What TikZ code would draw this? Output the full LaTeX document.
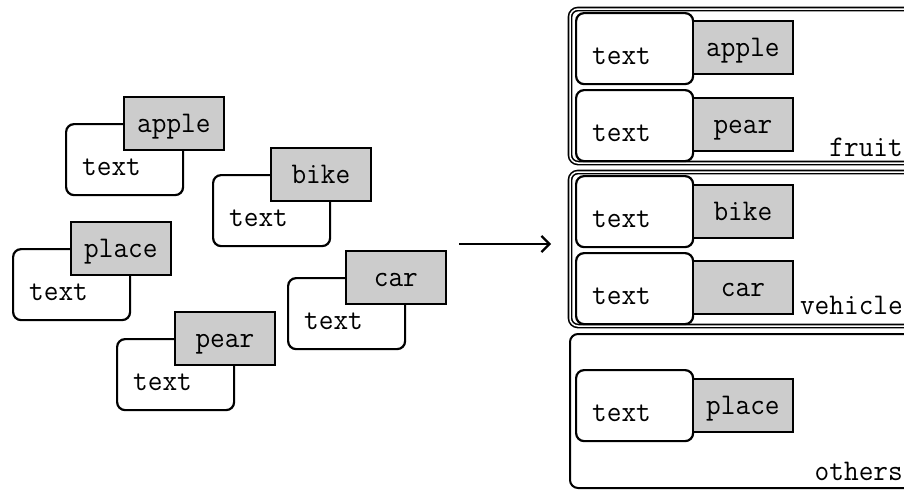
\documentclass[tikz,border=0pt]{standalone}
\usepackage{fontspec}
\setmonofont[FakeStretch=0.95]{Latin Modern Mono}
\usetikzlibrary{arrows.meta}
\definecolor{tagGray}{HTML}{CCCCCC}
\tikzset{
  x=1pt, y=-1pt,
  every node/.style={font=\ttfamily\fontsize{30}{30}\selectfont, inner sep=0pt},
  card/.style={draw, line width=2.2pt, rounded corners=8pt, fill=white,
               minimum width=117pt, minimum height=71pt, anchor=north west},
  tag/.style={draw, line width=1.8pt, fill=tagGray, minimum width=100pt,
              minimum height=53pt, anchor=north west,
              text height=22pt, text depth=4pt},
  word/.style={anchor=base west},
  group/.style={draw, line width=1.6pt, rounded corners=8pt,
                double, double distance=1.5pt},
  plaingroup/.style={draw, line width=2pt, rounded corners=8pt},
  caption/.style={anchor=base east}
}
\begin{document}
\begin{tikzpicture}
\useasboundingbox (0,0) rectangle (904,491);
\clip (0,0) rectangle (904,491);

% loose cards on the left
\node[card] (c1) at (65,123) {};
\node[word] (w1) at (82,175) {text};
\node[tag]  (t1) at (123,96) {apple};

\node[card] (c2) at (212,174) {};
\node[word] (w2) at (229,226) {text};
\node[tag]  (t2) at (270,147) {bike};

\node[card] (c3) at (12,248) {};
\node[word] (w3) at (29,300) {text};
\node[tag]  (t3) at (70,221) {place};

\node[card] (c4) at (287,277) {};
\node[word] (w4) at (304,329) {text};
\node[tag]  (t4) at (345,250) {car};

\node[card] (c5) at (116,338) {};
\node[word] (w5) at (133,390) {text};
\node[tag]  (t5) at (174,311) {pear};

% arrow
\coordinate (from) at (459,244);
\coordinate (to) at (551,244);
\draw[line width=2.2pt, -{Straight Barb[length=8pt,width=16pt,line width=2.2pt]}] (from) -- (to);

% grouped cards on the right
\draw[group] (570,9) rectangle (930,163);
\draw[group] (570,172) rectangle (930,326);
\draw[plaingroup] (570,334) rectangle (930,488);

\node[card] (r1) at (575,12) {};
\node[word] (rw1) at (592,64) {text};
\node[tag]  (rt1) at (692,20) {apple};

\node[card] (r2) at (575,89) {};
\node[word] (rw2) at (592,141) {text};
\node[tag]  (rt2) at (692,97) {pear};

\node[card] (r3) at (575,175) {};
\node[word] (rw3) at (592,227) {text};
\node[tag]  (rt3) at (692,184) {bike};

\node[card] (r4) at (575,252) {};
\node[word] (rw4) at (592,304) {text};
\node[tag]  (rt4) at (692,260) {car};

\node[card] (r5) at (575,369) {};
\node[word] (rw5) at (592,421) {text};
\node[tag]  (rt5) at (692,378) {place};

\node[caption] (g1) at (903,156) {fruit};
\node[caption] (g2) at (903,314) {vehicle};
\node[caption] (g3) at (903,480) {others};
\end{tikzpicture}
\end{document}
